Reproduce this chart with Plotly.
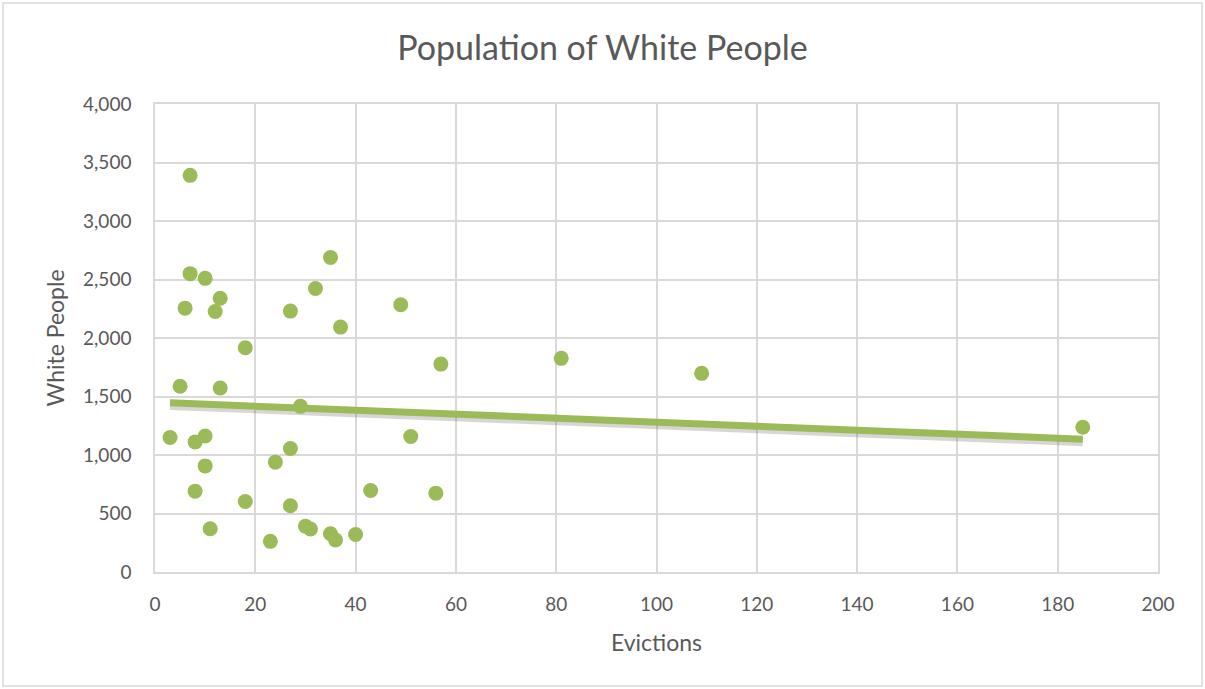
import numpy as np
import plotly.graph_objects as go

# Evictions vs. white population per area
evictions = [7, 7, 10, 13, 6, 12, 27, 35, 32, 37, 49, 18, 57,
             5, 13, 29, 3, 8, 10, 10, 27, 24, 51, 8, 18, 27, 43, 56,
             11, 23, 30, 31, 35, 36, 40, 81, 109, 185]
white_people = [3390, 2550, 2510, 2340, 2255, 2227, 2230, 2688, 2423, 2093, 2284, 1917, 1777,
                1587, 1573, 1416, 1149, 1112, 1163, 907, 1055, 939, 1158, 691, 603, 566, 697, 674,
                370, 262, 392, 367, 327, 273, 321, 1826, 1698, 1237]

x_ticks = list(range(0, 201, 20))
y_ticks = list(range(0, 4001, 500))

GREEN = "#9BBB59"
GRID = "#d9d9d9"
TEXT = "#595959"
FONT = "Lato, 'Open Sans', sans-serif"

# Linear least-squares trend line
slope, intercept = np.polyfit(evictions, white_people, 1)
tx = np.array([min(evictions), max(evictions)])
ty = slope * tx + intercept

fig = go.Figure()

# soft shadow under the trend line
fig.add_trace(go.Scatter(
    x=tx, y=ty - 22, mode="lines",
    line=dict(color="rgba(90,90,90,0.25)", width=9),
    hoverinfo="skip", showlegend=False))

fig.add_trace(go.Scatter(
    x=evictions, y=white_people, mode="markers",
    marker=dict(color=GREEN, size=15, line=dict(width=0)),
    showlegend=False))

fig.add_trace(go.Scatter(
    x=tx, y=ty, mode="lines",
    line=dict(color=GREEN, width=7),
    hoverinfo="skip", showlegend=False))

axis_common = dict(
    showgrid=True, gridcolor=GRID, gridwidth=1.5,
    showline=True, linecolor=GRID, linewidth=1.5, mirror=True,
    zeroline=False, ticks="",
    tickfont=dict(family=FONT, size=19, color=TEXT),
)

fig.update_xaxes(
    range=[0, 200], tickvals=x_ticks, ticklabelstandoff=14,
    title=dict(text="Evictions", font=dict(family=FONT, size=23, color=TEXT), standoff=21),
    **axis_common)
fig.update_yaxes(
    range=[0, 4000], tickvals=y_ticks, tickformat=",", ticklabelstandoff=18,
    title=dict(text="White People", font=dict(family=FONT, size=23, color=TEXT), standoff=12),
    **axis_common)

fig.update_layout(
    width=1205, height=689,
    margin=dict(l=155, r=47, t=104, b=117),
    paper_bgcolor="white", plot_bgcolor="white",
    title=dict(text="Population of White People", x=0.5, xanchor="center",
               y=0.93, yanchor="middle",
               font=dict(family=FONT, size=34, color=TEXT)),
    shapes=[dict(type="rect", xref="paper", yref="paper",
                 x0=-0.1515, x1=1.0439, y0=-0.2436, y1=1.2158,
                 line=dict(color=GRID, width=1.5), fillcolor="rgba(0,0,0,0)",
                 layer="below")],
)

fig.write_html("out.html")
